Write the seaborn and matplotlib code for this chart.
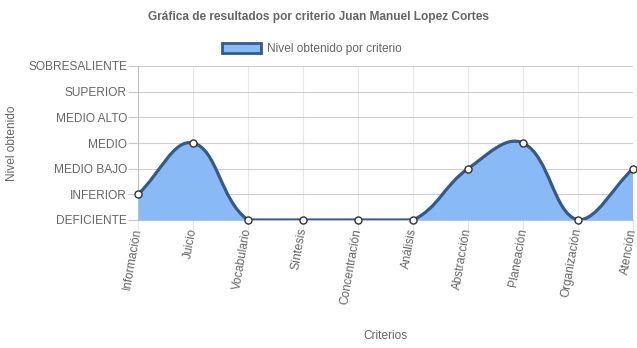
import numpy as np
import matplotlib
matplotlib.use("Agg")
import matplotlib.pyplot as plt
import seaborn as sns
import pandas as pd
from matplotlib.path import Path
from matplotlib.patches import PathPatch, Patch

criterios = ["Información", "Juicio", "Vocabulario", "Síntesis", "Concentración",
             "Análisis", "Abstracción", "Planeación", "Organización", "Atención"]
niveles = ["DEFICIENTE", "INFERIOR", "MEDIO BAJO", "MEDIO", "MEDIO ALTO",
           "SUPERIOR", "SOBRESALIENTE"]
valores = [1, 3, 0, 0, 0, 0, 2, 3, 0, 2]

titulo = "Gráfica de resultados por criterio Juan Manuel Lopez Cortes"
serie = "Nivel obtenido por criterio"
eje_y = "Nivel obtenido"
eje_x = "Criterios"

FILL = "#8abaf5"
LINE = "#2f5b91"
TXT = "#666666"

sns.set_theme(style="white")
plt.rcParams["font.family"] = ["Liberation Sans", "DejaVu Sans"]

W, H = 637, 348
fig = plt.figure(figsize=(W / 100, H / 100), dpi=100)
L, R, T, B = 138, 633, 66, 220
ax = fig.add_axes([L / W, 1 - B / H, (R - L) / W, (B - T) / H])

df = pd.DataFrame({"criterio": criterios, "valor": valores})

# markers via seaborn
sns.scatterplot(data=df, x="criterio", y="valor", ax=ax, color="white",
                edgecolor="#333333", linewidth=1.0, s=26, zorder=5, clip_on=False)

ax.set_xlim(0, len(criterios) - 1)
ax.set_ylim(0, len(niveles) - 1)

# Chart.js-style spline (tension 0.4) computed in display space
xs = np.arange(len(valores), dtype=float)
ys = np.array(valores, dtype=float)
P = ax.transData.transform(np.column_stack([xs, ys]))
bb = ax.bbox
t = 0.4
n = len(P)
cprev = np.zeros_like(P)
cnext = np.zeros_like(P)
for i in range(n):
    prev = P[i - 1] if i > 0 else P[i]
    nxt = P[i + 1] if i < n - 1 else P[i]
    cur = P[i]
    d01 = np.hypot(*(cur - prev))
    d12 = np.hypot(*(nxt - cur))
    tot = d01 + d12
    s01 = d01 / tot if tot else 0
    s12 = d12 / tot if tot else 0
    fa, fb = t * s01, t * s12
    cprev[i] = cur - fa * (nxt - prev)
    cnext[i] = cur + fb * (nxt - prev)
for arr in (cprev, cnext):
    arr[:, 0] = np.clip(arr[:, 0], bb.x0, bb.x1)
    arr[:, 1] = np.clip(arr[:, 1], bb.y0, bb.y1)
inv = ax.transData.inverted()
Pd = inv.transform(P)
cpd = inv.transform(cprev)
cnd = inv.transform(cnext)

verts = [Pd[0]]
codes = [Path.MOVETO]
for i in range(n - 1):
    verts += [cnd[i], cpd[i + 1], Pd[i + 1]]
    codes += [Path.CURVE4] * 3
line_path = Path(verts, codes)
fill_verts = verts + [(xs[-1], 0), (xs[0], 0), (xs[0], 0)]
fill_codes = codes + [Path.LINETO, Path.LINETO, Path.CLOSEPOLY]
ax.add_patch(PathPatch(Path(fill_verts, fill_codes), facecolor=FILL,
                       edgecolor="none", zorder=2))
ax.add_patch(PathPatch(line_path, facecolor="none", edgecolor=LINE,
                       linewidth=2.3, zorder=3, capstyle="round"))

# ticks and grid
ax.set_xticks(xs)
ax.set_xticklabels(criterios, rotation=80, ha="right", va="center",
                   rotation_mode="anchor", fontsize=8.6, color=TXT)
ax.set_yticks(range(len(niveles)))
ax.set_yticklabels(niveles, fontsize=8.6, color=TXT)
ax.tick_params(axis="y", length=7, width=0.8, color="#c8c8c8", pad=1, left=True)
ax.tick_params(axis="x", length=7, width=0.8, color="#e4e4e4", pad=-1, bottom=True)
ax.grid(axis="y", color="#cfcfcf", linewidth=0.8)
ax.grid(axis="x", color="#e8e8e8", linewidth=0.8)
ax.set_axisbelow(True)
for s in ("top", "right"):
    ax.spines[s].set_visible(False)
ax.spines["left"].set_color("#c0c0c0")
ax.spines["bottom"].set_color("#c0c0c0")
ax.spines["left"].set_linewidth(0.8)
ax.spines["bottom"].set_linewidth(0.8)
ax.set_xlabel("")
ax.set_ylabel("")
ax.set_facecolor("white")

fig.text(0.5, 1 - 17 / H, titulo, ha="center", va="center", fontsize=8.6,
         fontweight="bold", color=TXT)
fig.text(12 / W, 1 - 143 / H, eje_y, ha="center", va="center", rotation=90,
         fontsize=8.6, color=TXT)
fig.text((L + R) / 2 / W, 1 - 336 / H, eje_x, ha="center", va="center",
         fontsize=8.6, color=TXT)

handle = Patch(facecolor=FILL, edgecolor=LINE, linewidth=2)
fig.legend([handle], [serie], loc="center", bbox_to_anchor=(312 / W, 1 - 49 / H),
           frameon=False, fontsize=8.6, handlelength=3.3, handleheight=1.0,
           handletextpad=0.5, labelcolor=TXT)

fig.savefig("out.png", dpi=100, facecolor="white")
